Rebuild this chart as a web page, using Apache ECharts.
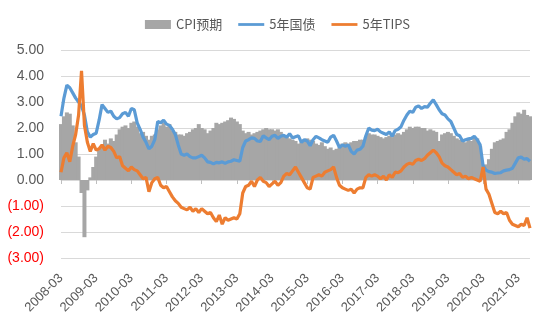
<!DOCTYPE html>
<html>
<head>
<meta charset="utf-8">
<script src="https://cdn.jsdelivr.net/npm/echarts@6/dist/echarts.min.js"></script>
<style>
  html, body { margin: 0; padding: 0; background: #fff; }
  #chart { width: 555px; height: 330px; }
</style>
</head>
<body>
<div id="chart"></div>
<script>
// Monthly observations, 2008-03 .. 2021-07
const startYear = 2008, startMonth = 3, monthCount = 161;
const months = [];
for (let i = 0; i < monthCount; i++) {
  const t = startMonth - 1 + i;
  const y = startYear + Math.floor(t / 12);
  const m = (t % 12) + 1;
  months.push(y + '-' + (m < 10 ? '0' + m : m));
}

const seriesNames = ['CPI预期', '5年国债', '5年TIPS'];

// CPI预期 (breakeven inflation)
const cpiExpect = [
  2.15, 2.45, 2.6, 2.55, 2.1, 1.45, 0.9, -0.5, -2.2, -0.4,
  0.1, 0.5, 0.9, 1.15, 1.35, 1.55, 1.4, 1.6, 1.5, 1.75,
  1.95, 2.05, 2.1, 2.0, 2.2, 2.25, 2.05, 1.8, 1.85, 1.7,
  1.55, 1.7, 1.75, 1.95, 2.1, 2.2, 2.05, 2.15, 1.9, 1.85,
  1.75, 1.75, 1.7, 1.8, 1.85, 1.95, 2.0, 2.15, 2.0, 1.95,
  1.8, 1.9, 2.0, 2.2, 2.15, 2.2, 2.25, 2.3, 2.4, 2.35,
  2.25, 2.15, 1.9, 1.8, 1.85, 1.75, 1.8, 1.85, 1.9, 1.95,
  2.0, 1.95, 1.95, 1.9, 1.95, 1.85, 1.7, 1.65, 1.6, 1.55,
  1.5, 1.4, 1.45, 1.55, 1.6, 1.55, 1.5, 1.4, 1.35, 1.45,
  1.3, 1.2, 1.25, 1.15, 1.2, 1.25, 1.4, 1.45, 1.4, 1.45,
  1.5, 1.5, 1.55, 1.55, 1.65, 1.8, 1.75, 1.75, 1.7, 1.65,
  1.6, 1.65, 1.7, 1.65, 1.75, 1.8, 1.75, 1.85, 1.95, 2.05,
  2.0, 2.05, 2.05, 2.0, 2.0, 1.9, 1.95, 1.9, 1.85, 1.5,
  1.75, 1.8, 1.85, 1.8, 1.7, 1.6, 1.55, 1.5, 1.45, 1.55,
  1.5, 1.65, 1.6, 1.3, 0.3, 0.6, 0.8, 1.2, 1.45, 1.5,
  1.55, 1.6, 1.85, 1.95, 2.2, 2.45, 2.6, 2.55, 2.7, 2.5,
  2.45
];

// 5年国债 yield
const treasury5y = [
  2.45, 3.15, 3.65, 3.55, 3.35, 3.15, 3.0, 2.85, 2.5, 1.85,
  1.65, 1.75, 1.8, 2.3, 2.9, 2.75, 2.6, 2.65, 2.45, 2.35,
  2.4, 2.55, 2.6, 2.45, 2.75, 2.7, 2.2, 1.95, 1.65, 1.45,
  1.2, 1.3, 1.55, 2.25, 2.2, 2.3, 2.15, 2.1, 1.95, 1.75,
  1.35, 1.0, 0.95, 1.0, 0.9, 0.85, 0.85, 0.9, 0.95, 0.85,
  0.7, 0.68, 0.62, 0.68, 0.66, 0.7, 0.64, 0.7, 0.72, 0.78,
  0.75, 0.72, 1.25, 1.5, 1.55, 1.62, 1.6, 1.5, 1.48, 1.7,
  1.62, 1.55, 1.68, 1.72, 1.6, 1.68, 1.72, 1.65, 1.78, 1.62,
  1.66, 1.7, 1.45, 1.55, 1.5, 1.32, 1.55, 1.68, 1.62, 1.55,
  1.5, 1.45, 1.65, 1.72, 1.5, 1.25, 1.35, 1.3, 1.35, 1.1,
  1.0, 1.15, 1.18, 1.3, 1.7, 2.0, 1.92, 1.9, 1.95, 1.85,
  1.8, 1.75, 1.85, 1.68, 1.9, 1.95, 2.05, 2.3, 2.5, 2.65,
  2.6, 2.8, 2.85, 2.75, 2.82, 2.8, 2.95, 3.08, 2.9, 2.7,
  2.55, 2.5, 2.35, 2.25, 2.0, 1.75, 1.7, 1.5, 1.55, 1.58,
  1.6, 1.68, 1.55, 1.35, 0.55, 0.38, 0.32, 0.3, 0.25, 0.27,
  0.28, 0.35, 0.38, 0.4, 0.45, 0.65, 0.85, 0.88, 0.8, 0.82,
  0.72
];

// 5年TIPS real yield
const tips5y = [
  0.3, 0.85, 1.05, 0.7, 1.3, 1.75, 2.5, 4.2, 2.1, 1.45,
  1.1, 1.4, 1.15, 1.2, 1.35, 1.15, 1.3, 1.25, 1.1, 0.85,
  0.9, 0.55, 0.45, 0.35, 0.5, 0.4, 0.35, 0.2, 0.05, 0.1,
  -0.45, -0.1, 0.05, 0.1, -0.2, -0.3, -0.25, -0.45, -0.65, -0.8,
  -0.9, -1.05, -1.1, -1.15, -1.05, -1.2, -1.1, -1.25, -1.1, -1.2,
  -1.3, -1.25, -1.45, -1.6, -1.35, -1.7, -1.45, -1.55, -1.5, -1.45,
  -1.5, -1.3, -0.5, -0.25, -0.2, -0.05, -0.25, 0.0, 0.1, -0.05,
  -0.1, -0.25, -0.15, -0.05, -0.2, -0.1, 0.15, 0.25, 0.2, 0.35,
  0.5, 0.3, 0.1, -0.1, -0.3, -0.35, 0.1, 0.15, 0.2, 0.15,
  0.3, 0.35, 0.4, 0.5, 0.1, -0.2, -0.3, -0.35, -0.4, -0.35,
  -0.5, -0.35, -0.3, -0.3, 0.1, 0.2, 0.15, 0.2, 0.15, 0.05,
  0.15, 0.0, 0.2, 0.1, 0.3, 0.28, 0.35, 0.5, 0.6, 0.65,
  0.6, 0.75, 0.8, 0.75, 0.82, 0.95, 1.05, 1.15, 1.05, 0.9,
  0.65, 0.55, 0.5, 0.4, 0.3, 0.2, 0.25, 0.1, 0.15, 0.05,
  0.1, 0.05, 0.0, -0.05, 0.5, -0.35, -0.55, -0.9, -1.25, -1.3,
  -1.2, -1.3, -1.25, -1.55, -1.7, -1.75, -1.8, -1.7, -1.75, -1.45,
  -1.85
];

const yTicks = { min: -3, max: 5, step: 1 };

const textGray = '#595959';
const lineIcon = 'path://M0,0 L28,0 L28,3 L0,3 Z';
const chart = echarts.init(document.getElementById('chart'), null, { renderer: 'canvas' });

function fmtAxis(v) {
  if (v < 0) return '{neg|(' + Math.abs(v).toFixed(2) + ')}';
  return '{pos|' + v.toFixed(2) + '}';
}

chart.setOption({
  backgroundColor: '#ffffff',
  animation: false,
  legend: {
    top: 13,
    left: 'center',
    itemWidth: 26,
    itemHeight: 9,
    itemGap: 16,
    textStyle: { color: textGray, fontSize: 13, fontFamily: 'Noto Sans CJK SC, sans-serif' },
    data: [
      { name: seriesNames[0], icon: 'rect' },
      { name: seriesNames[1], icon: lineIcon },
      { name: seriesNames[2], icon: lineIcon }
    ]
  },
  grid: { left: 61, right: 25, top: 50, bottom: 72, containLabel: false },
  xAxis: [
    {
      type: 'category',
      data: months,
      boundaryGap: false,
      position: 'bottom',
      axisLine: { show: false, onZero: false },
      axisTick: { show: false },
      splitLine: { show: false },
      axisLabel: {
        interval: 11,
        rotate: 45,
        margin: 18,
        color: textGray,
        fontSize: 13,
        fontFamily: 'Liberation Sans, Arial, sans-serif'
      }
    },
    {
      type: 'category',
      data: months,
      boundaryGap: false,
      position: 'top',
      axisLine: { show: true, onZero: true, lineStyle: { color: '#d9d9d9', width: 1 } },
      axisTick: { show: true, inside: true, interval: 11, length: 4, lineStyle: { color: '#bfbfbf' } },
      axisLabel: { show: false },
      splitLine: { show: false }
    }
  ],
  yAxis: {
    type: 'value',
    min: yTicks.min,
    max: yTicks.max,
    interval: yTicks.step,
    axisLine: { show: false },
    axisTick: { show: false },
    splitLine: { lineStyle: { color: '#d9d9d9', width: 1 } },
    axisLabel: {
      margin: 17,
      formatter: fmtAxis,
      rich: {
        pos: { color: textGray, fontSize: 14, fontFamily: 'Liberation Sans, Arial, sans-serif' },
        neg: { color: '#ff0000', fontSize: 14, fontFamily: 'Liberation Sans, Arial, sans-serif' }
      }
    }
  },
  series: [
    {
      name: seriesNames[0],
      type: 'bar',
      data: cpiExpect,
      barWidth: 4,
      itemStyle: { color: '#a6a6a6' },
      z: 1
    },
    {
      name: seriesNames[1],
      type: 'line',
      data: treasury5y,
      symbol: 'none',
      lineStyle: { color: '#5b9bd5', width: 3.2 },
      itemStyle: { color: '#5b9bd5' },
      z: 3
    },
    {
      name: seriesNames[2],
      type: 'line',
      data: tips5y,
      symbol: 'none',
      lineStyle: { color: '#ed7d31', width: 3.2 },
      itemStyle: { color: '#ed7d31' },
      z: 4
    }
  ]
});
</script>
</body>
</html>
